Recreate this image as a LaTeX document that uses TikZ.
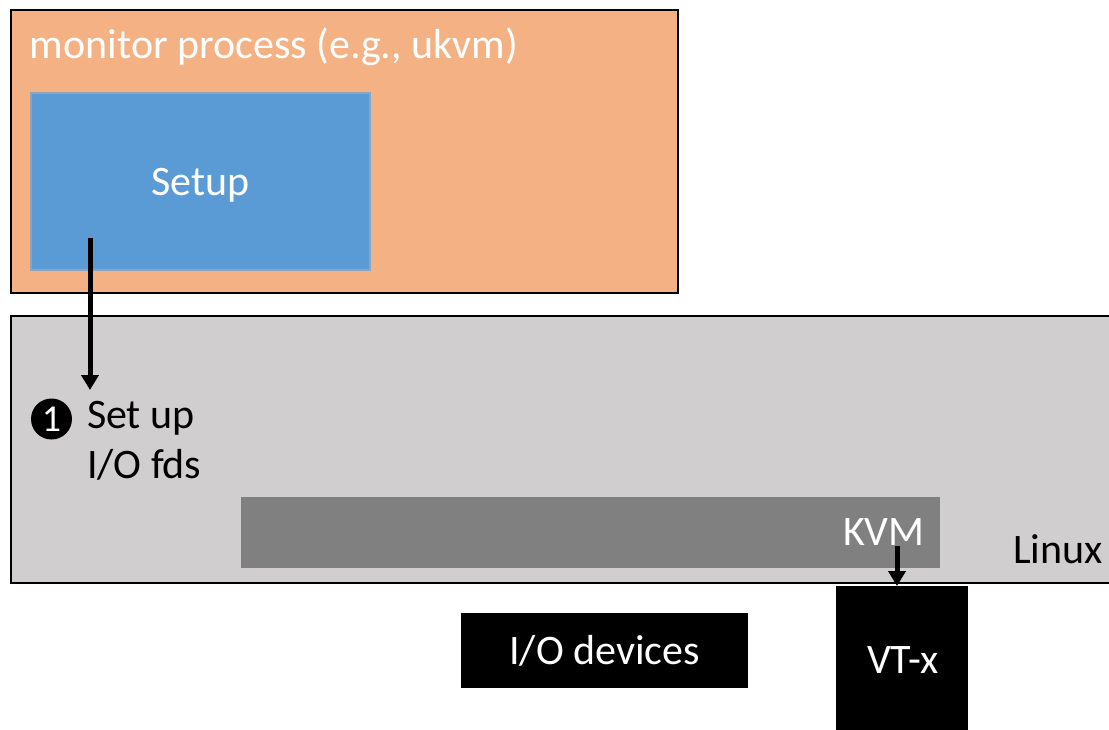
\documentclass[tikz,border=0pt]{standalone}
\usepackage{fontspec}
\setmainfont{Carlito}
\usepackage{xcolor}
\definecolor{monorange}{RGB}{244,177,131}
\definecolor{setupblue}{RGB}{91,155,213}
\definecolor{setupedge}{RGB}{143,165,190}
\definecolor{linuxgray}{RGB}{208,206,206}
\definecolor{kvmgray}{RGB}{128,128,128}
\usetikzlibrary{arrows.meta,positioning}

\begin{document}
\begin{tikzpicture}[x=1pt,y=-1pt,inner sep=0pt,outer sep=0pt,
  font=\fontsize{42}{50}\selectfont,
  hwbox/.style={fill=black,text=white},
  callarrow/.style={-{Triangle[length=15pt,width=17pt]},line width=5pt}]
  \useasboundingbox (0,0) rectangle (1109,730);
  % user space
  \node[draw,line width=2pt,fill=monorange,minimum width=667pt,minimum height=283pt] (mon) at (344.5,151.5) {};
  \node[anchor=base west,text=white] (monlbl) at (30,59) {monitor process (e.g., ukvm)};
  \node[draw=setupedge,line width=2pt,fill=setupblue,minimum width=339pt,minimum height=177pt] (setup) at (200.5,181.5) {};
  \node[anchor=base,text=white] (setuplbl) at (200.5,196) {Setup};
  % kernel
  \node[draw,line width=2pt,fill=linuxgray,minimum width=1114pt,minimum height=267pt] (linux) at (568,449) {};
  \node[anchor=base west] (linuxlbl) at (1013,563) {Linux};
  \node[fill=kvmgray,minimum width=699pt,minimum height=71pt] (kvm) at (590.5,532.5) {};
  \node[anchor=base west,text=white] (kvmlbl) at (843,545) {KVM};
  \node[circle,fill=black,text=white,minimum size=41pt,font=\fontsize{38}{40}\selectfont] (num) at (51.5,419) {1};
  \node[anchor=base west,align=left] (setiolbl) at (87,478) {Set up\\I/O fds};
  % hardware
  \node[hwbox,minimum width=287pt,minimum height=75pt] (iodev) at (604.5,650.5) {I/O devices};
  \node[hwbox,minimum width=132pt,minimum height=154pt] (vtx) at (902,663) {};
  \node[anchor=base west,text=white] (vtxlbl) at (867,673) {VT-x};
  % calls
  \coordinate (setupout) at (90,238);
  \coordinate (setupin) at (90,390);
  \coordinate (kvmout) at (897,546);
  \draw[callarrow] (setupout) -- (setupin);
  \draw[callarrow] (kvmout) -- (vtx.north -| kvmout);
\end{tikzpicture}
\end{document}
